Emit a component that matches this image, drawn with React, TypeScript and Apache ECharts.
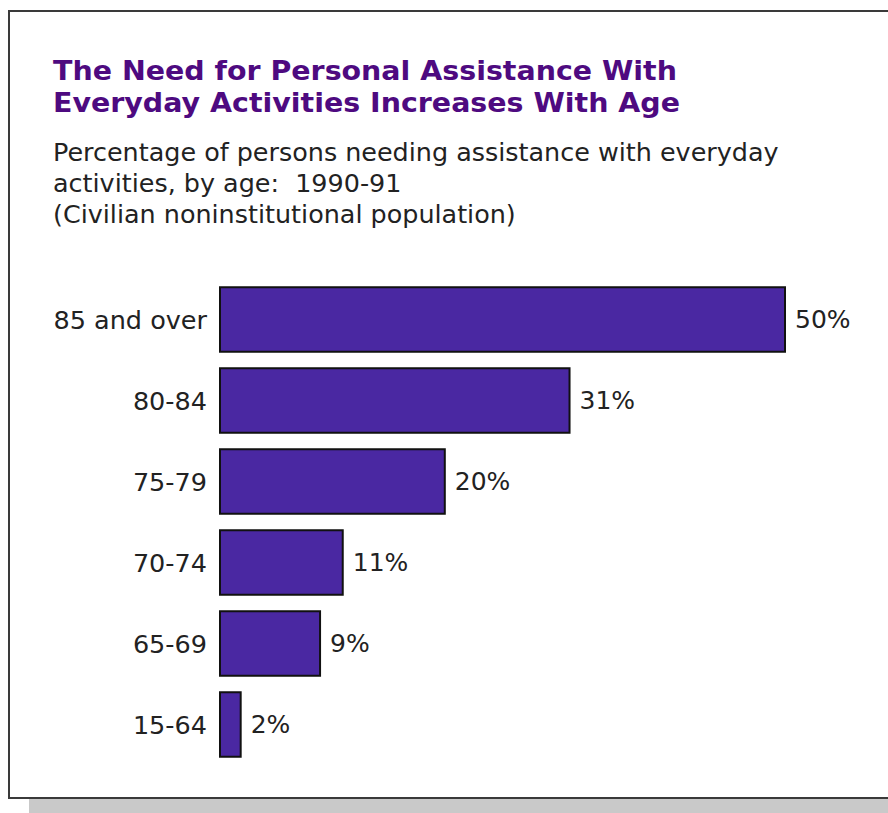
import React, { useEffect, useRef } from "react";
import * as echarts from "echarts";

const categories = ["85 and over", "80-84", "75-79", "70-74", "65-69", "15-64"];
const values = [50, 31, 20, 11, 9, 2];
const titleLines = [
  "The Need for Personal Assistance With",
  "Everyday Activities Increases With Age",
];
const subtitleLines = [
  "Percentage of persons needing assistance with everyday",
  "activities, by age:  1990-91",
  "(Civilian noninstitutional population)",
];

export default function App() {
  const ref = useRef<HTMLDivElement>(null);
  useEffect(() => {
    if (!ref.current) return;
    const chart = echarts.init(ref.current, null, { renderer: "svg" });
    const font = "DejaVu Sans";
    const graphics: any[] = [
      { type: "rect", z: -10, shape: { x: 29, y: 798, width: 870, height: 20 }, style: { fill: "#c9c9c9" } },
      { type: "rect", z: -9, shape: { x: 9, y: 11, width: 900, height: 787 }, style: { fill: "#ffffff", stroke: "#3a3a3a", lineWidth: 2 } },
    ];
    titleLines.forEach((t, i) => {
      graphics.push({
        type: "text",
        x: 53,
        y: 71 + i * 32,
        scaleX: 1.095,
        style: { text: t, font: `bold 26px "${font}"`, fill: "#4e0a80", verticalAlign: "middle", align: "left" },
      });
    });
    subtitleLines.forEach((t, i) => {
      graphics.push({
        type: "text",
        x: 53,
        y: 153 + i * 31,
        scaleX: 1.06,
        style: { text: t, font: `24px "${font}"`, fill: "#222222", verticalAlign: "middle", align: "left" },
      });
    });
    chart.setOption({
      animation: false,
      backgroundColor: "#ffffff",
      graphic: graphics,
      grid: { left: 219, top: 279, width: 567, height: 486, containLabel: false },
      xAxis: { type: "value", min: 0, max: 50, show: false },
      yAxis: {
        type: "category",
        data: categories,
        inverse: true,
        axisLine: { show: false },
        axisTick: { show: false },
        splitLine: { show: false },
        axisLabel: { margin: 12, fontSize: 25.5, fontFamily: font, color: "#222222" },
      },
      series: [
        {
          type: "bar",
          data: values,
          barCategoryGap: "18%",
          itemStyle: { color: "#4a28a2", borderColor: "#111111", borderWidth: 2 },
          label: {
            show: true,
            position: "right",
            distance: 9,
            formatter: "{c}%",
            fontSize: 25,
            fontFamily: font,
            color: "#222222",
          },
        },
      ],
    });
    return () => chart.dispose();
  }, []);
  return <div ref={ref} style={{ position: "fixed", left: 0, top: 0, width: 888, height: 813 }} />;
}
